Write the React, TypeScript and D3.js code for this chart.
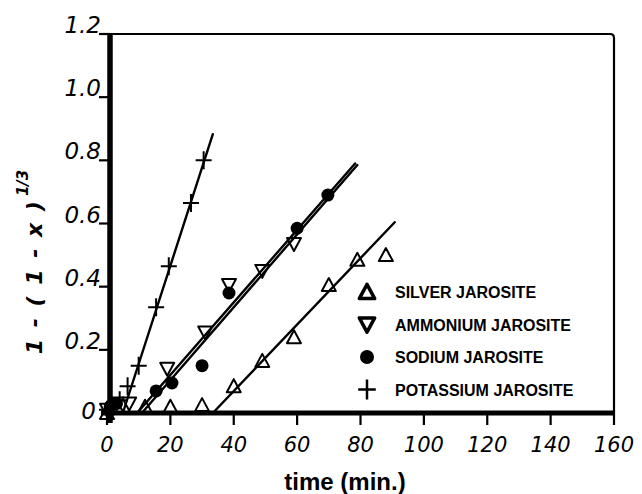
import { useEffect, useRef } from "react";
import * as d3 from "d3";

const timeTicks = [0, 20, 40, 60, 80, 100, 120, 140, 160];
const valueTicks = [0, 0.2, 0.4, 0.6, 0.8, 1.0, 1.2];
const valueTickLabels = ["0", "0.2", "0.4", "0.6", "0.8", "1.0", "1.2"];

const silverTime = [0, 3, 12, 20, 30, 40, 49, 59, 70, 79, 88];
const silverValue = [0, 0.02, 0.02, 0.02, 0.025, 0.085, 0.165, 0.24, 0.405, 0.485, 0.5];
const ammoniumTime = [0, 3, 7, 19, 31, 38.5, 49, 59];
const ammoniumValue = [0.01, 0.03, 0.03, 0.14, 0.255, 0.405, 0.45, 0.535];
const sodiumTime = [1, 3, 15.5, 20.5, 30, 38.5, 60, 69.7];
const sodiumValue = [0.02, 0.03, 0.07, 0.095, 0.15, 0.38, 0.585, 0.69];
const potassiumTime = [0, 2, 4, 6.5, 10, 15.5, 19.5, 26.5, 30.5];
const potassiumValue = [0.01, 0.02, 0.04, 0.085, 0.15, 0.335, 0.465, 0.665, 0.8];

// hand-fitted straight lines as drawn on the figure: [time, value] start and end
const silverFit: [number, number][] = [[33.4, 0], [90.8, 0.604]];
const ammoniumFit: [number, number][] = [[11, 0], [79, 0.785]];
const sodiumFit: [number, number][] = [[9.5, 0], [78.3, 0.79]];
const potassiumFit: [number, number][] = [[5, 0], [33.4, 0.883]];

const legendNames = ["SILVER JAROSITE", "AMMONIUM JAROSITE", "SODIUM JAROSITE", "POTASSIUM JAROSITE"];
type Kind = "up" | "down" | "dot" | "plus";
const legendKinds: Kind[] = ["up", "down", "dot", "plus"];

const W = 642;
const H = 494;

function drawMarker(g: d3.Selection<SVGGElement, unknown, null, undefined>, kind: Kind, cx: number, cy: number, big = false) {
  const s = big ? 1.1 : 1;
  const sw = big ? 3.5 : 2;
  if (kind === "up") {
    g.append("path")
      .attr("d", `M0,${-7 * s} L${7 * s},${6 * s} L${-7 * s},${6 * s} Z`)
      .attr("transform", `translate(${cx},${cy})`)
      .attr("fill", "none")
      .attr("stroke", "#000")
      .attr("stroke-width", sw)
      .attr("stroke-linejoin", "round");
  } else if (kind === "down") {
    g.append("path")
      .attr("d", `M${-7 * s},${-6 * s} L${7 * s},${-6 * s} L0,${7 * s} Z`)
      .attr("transform", `translate(${cx},${cy})`)
      .attr("fill", "none")
      .attr("stroke", "#000")
      .attr("stroke-width", sw)
      .attr("stroke-linejoin", "round");
  } else if (kind === "dot") {
    g.append("circle").attr("cx", cx).attr("cy", cy).attr("r", big ? 7 : 6.5).attr("fill", "#000");
  } else {
    g.append("path")
      .attr("d", `M${-8 * s},0 L${8 * s},0 M0,${-9 * s} L0,${9 * s}`)
      .attr("transform", `translate(${cx},${cy})`)
      .attr("fill", "none")
      .attr("stroke", "#000")
      .attr("stroke-width", big ? 2.5 : 2);
  }
}

export default function App() {
  const ref = useRef<SVGSVGElement>(null);

  useEffect(() => {
    if (!ref.current) return;
    const svg = d3.select(ref.current);
    svg.selectAll("*").remove();

    const x = d3.scaleLinear().domain([0, 160]).range([107, 614]);
    const y = d3.scaleLinear().domain([0, 1.2]).range([413, 34]);

    const g = svg.append("g");

    // frame: thin top and right, heavy left and bottom
    g.append("path")
      .attr("d", `M${x(0) + 2},${y(1.2)} L${x(160) - 4},${y(1.2)} Q${x(160)},${y(1.2)} ${x(160)},${y(1.2) + 4} L${x(160)},${y(0)}`)
      .attr("fill", "none")
      .attr("stroke", "#000")
      .attr("stroke-width", 2.2);
    g.append("line")
      .attr("x1", x(0) + 3).attr("x2", x(0) + 3)
      .attr("y1", y(1.2) - 1).attr("y2", y(0) + 10)
      .attr("stroke", "#000").attr("stroke-width", 5.5);
    g.append("line")
      .attr("x1", x(0) - 6).attr("x2", x(160) + 1)
      .attr("y1", y(0)).attr("y2", y(0))
      .attr("stroke", "#000").attr("stroke-width", 5);

    // x ticks
    timeTicks.forEach((t) => {
      g.append("line")
        .attr("x1", x(t)).attr("x2", x(t))
        .attr("y1", y(0)).attr("y2", y(0) + 12)
        .attr("stroke", "#000").attr("stroke-width", 2.2);
      g.append("text")
        .attr("x", x(t))
        .attr("y", 452)
        .attr("text-anchor", "middle")
        .style("font-family", "'DejaVu Sans', sans-serif")
        .style("font-style", "italic")
        .style("font-size", "21px")
        .text(String(t));
    });

    // y ticks
    valueTicks.forEach((v, i) => {
      if (v > 0) {
        g.append("line")
          .attr("x1", x(0) - 8).attr("x2", x(0) + 3)
          .attr("y1", y(v)).attr("y2", y(v))
          .attr("stroke", "#000").attr("stroke-width", 2.2);
      }
      g.append("text")
        .attr("x", v === 0 ? 96 : 101)
        .attr("y", v === 0 ? y(v) + 6 : y(v) - 1)
        .attr("text-anchor", "end")
        .style("font-family", "'DejaVu Sans', sans-serif")
        .style("font-style", "italic")
        .style("font-size", "23px")
        .text(valueTickLabels[i]);
    });

    // axis titles
    g.append("text")
      .attr("x", 345)
      .attr("y", 490)
      .attr("text-anchor", "middle")
      .style("font-family", "'Liberation Sans', Arial, sans-serif")
      .style("font-weight", "bold")
      .style("font-size", "24px")
      .text("time (min.)");

    const yt = g.append("text")
      .attr("transform", "translate(42,262) rotate(-90)")
      .attr("text-anchor", "middle")
      .style("font-family", "'DejaVu Sans', sans-serif")
      .style("font-style", "italic")
      .style("font-weight", "bold")
      .style("font-size", "22px")
      .style("letter-spacing", "2px");
    yt.append("tspan").text("1 - ( 1 - x )");
    yt.append("tspan").attr("dy", -14).attr("dx", 3).style("font-size", "15px").style("letter-spacing", "0px").text("1/3");

    // fitted lines
    const line = d3.line<[number, number]>().x((d) => x(d[0])).y((d) => y(d[1]));
    [silverFit, ammoniumFit, sodiumFit, potassiumFit].forEach((f) => {
      g.append("path")
        .datum(f)
        .attr("d", line)
        .attr("fill", "none")
        .attr("stroke", "#000")
        .attr("stroke-width", 2.4)
        .attr("stroke-linecap", "round");
    });

    // data markers
    const series: [number[], number[], Kind][] = [
      [silverTime, silverValue, "up"],
      [ammoniumTime, ammoniumValue, "down"],
      [sodiumTime, sodiumValue, "dot"],
      [potassiumTime, potassiumValue, "plus"],
    ];
    series.forEach(([ts, vs, kind]) => {
      ts.forEach((t, i) => drawMarker(g, kind, x(t), y(vs[i])));
    });

    // legend
    legendNames.forEach((name, i) => {
      const ly = 292 + i * 32.5;
      drawMarker(g, legendKinds[i], 367, ly, true);
      g.append("text")
        .attr("x", 395)
        .attr("y", ly + 6)
        .style("font-family", "'Liberation Sans', Arial, sans-serif")
        .style("font-weight", "bold")
        .style("font-size", "16px")
        .text(name);
    });
  }, []);

  return (
    <svg
      ref={ref}
      width={W}
      height={H}
      style={{ position: "absolute", left: 0, top: 0, background: "#fff" }}
    />
  );
}
